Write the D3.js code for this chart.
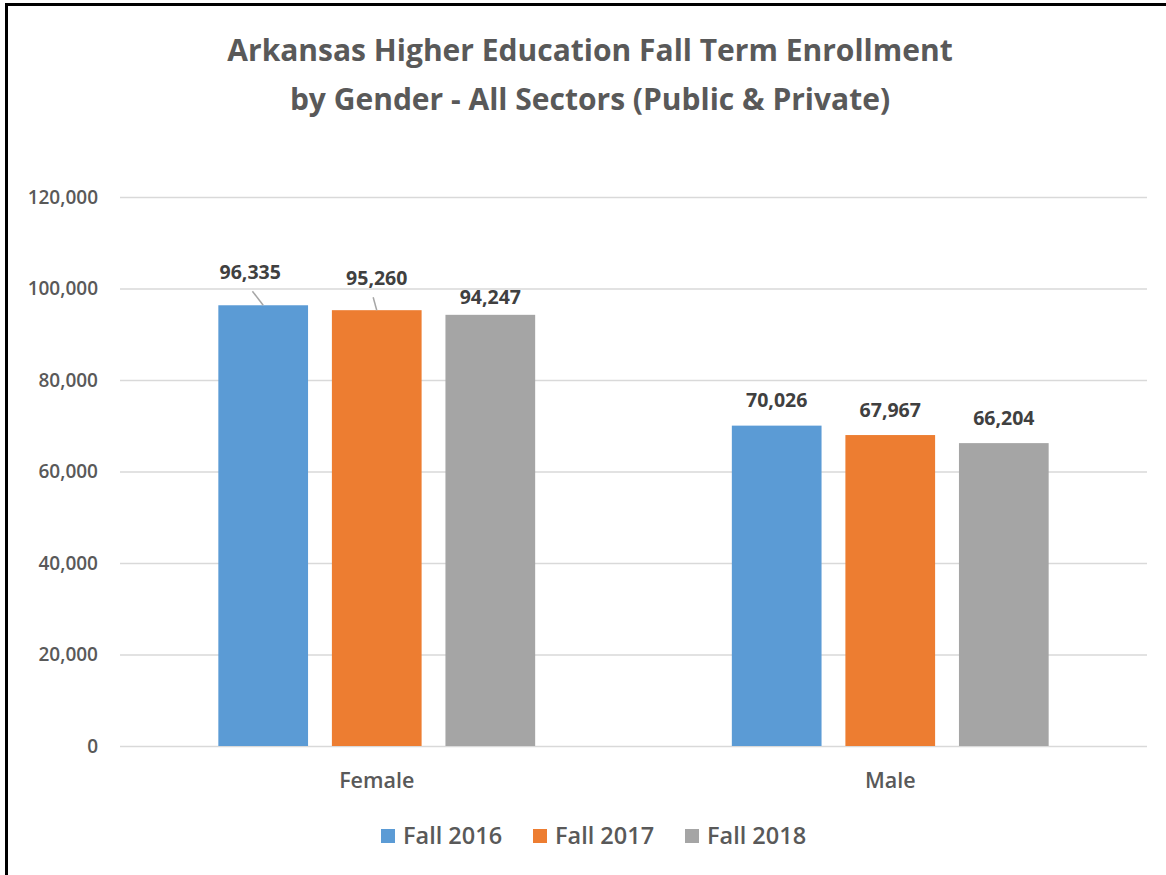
<!DOCTYPE html>
<html>
<head>
<meta charset="utf-8">
<script src="https://cdn.jsdelivr.net/npm/d3@7"></script>
<style>
  body { margin: 0; background: #fff; }
  svg { display: block; font-family: "Open Sans", "Noto Sans", sans-serif; }
</style>
</head>
<body>
<script>
// Chart values.
const genders = ["Female", "Male"];
const terms = ["Fall 2016", "Fall 2017", "Fall 2018"];
const fall2016 = [96335, 70026];
const fall2017 = [95260, 67967];
const fall2018 = [94247, 66204];
const yTicks = [0, 20000, 40000, 60000, 80000, 100000, 120000];

const colors = ["#5b9bd5", "#ed7d31", "#a5a5a5"];
const seriesValues = [fall2016, fall2017, fall2018];

const width = 1166, height = 875;
const margin = {top: 197, right: 19, bottom: 129, left: 120};

const svg = d3.select("body").append("svg")
  .attr("width", width).attr("height", height);

// frame (only left and top edges show in the picture)
svg.append("path")
  .attr("d", "M6.5,875 V4.5 H1166")
  .attr("fill", "none").attr("stroke", "#000").attr("stroke-width", 3);

// title
const title = svg.append("text")
  .attr("x", 590).attr("y", 61)
  .attr("text-anchor", "middle")
  .attr("fill", "#595959")
  .style("font-size", "30px").style("font-weight", "bold");
title.append("tspan").attr("x", 590).attr("dy", 0).text("Arkansas Higher Education Fall Term Enrollment");
title.append("tspan").attr("x", 590).attr("dy", 49).text("by Gender - All Sectors (Public & Private)");

const x0 = d3.scaleBand().domain(genders)
  .range([margin.left, width - margin.right]);
const x1 = d3.scaleBand().domain(terms)
  .range([0, x0.bandwidth() * 0.617]).paddingInner(0.21);
const y = d3.scaleLinear().domain([0, 120000])
  .range([height - margin.bottom, margin.top]);

// gridlines
svg.append("g")
  .attr("transform", "translate(" + margin.left + ",0)")
  .call(d3.axisLeft(y).tickValues(yTicks)
    .tickSize(-(width - margin.left - margin.right)).tickFormat(""))
  .call(g => g.select(".domain").remove())
  .call(g => g.selectAll("line").attr("stroke", "#d9d9d9").attr("stroke-width", 1.5));

// y tick labels
svg.append("g")
  .attr("transform", "translate(98,0)")
  .call(d3.axisLeft(y).tickValues(yTicks).tickSize(0).tickPadding(0)
    .tickFormat(d3.format(",")))
  .call(g => g.select(".domain").remove())
  .call(g => g.selectAll("text").attr("fill", "#595959")
    .style("font-size", "19px").style("font-weight", "600")
    .style("font-family", "'Open Sans', sans-serif"));

// bars
const groups = svg.selectAll(".grp")
  .data(genders)
  .enter().append("g")
  .attr("class", "grp")
  .attr("transform", (d) => "translate(" + (x0(d) + x0.bandwidth() * 0.1915) + ",0)");

const cells = groups.selectAll("rect")
  .data((g, gi) => terms.map((t, ti) => ({term: t, gi: gi, ti: ti, value: seriesValues[ti][gi]})))
  .enter();

cells.append("rect")
  .attr("x", (d) => x1(d.term))
  .attr("y", (d) => y(d.value))
  .attr("width", x1.bandwidth())
  .attr("height", (d) => y(0) - y(d.value))
  .attr("fill", (d) => colors[d.ti]);

// data labels; the first two female labels were dragged up with leader lines
function labelLift(d) {
  if (d.gi === 0 && d.ti === 0) return 33;
  if (d.gi === 0 && d.ti === 1) return 32;
  if (d.gi === 0 && d.ti === 2) return 18;
  return 25;
}

cells.filter((d) => d.gi === 0 && d.ti < 2)
  .append("line")
  .attr("x1", (d) => x1(d.term) + x1.bandwidth() * (d.ti === 0 ? 0.38 : 0.46))
  .attr("y1", (d) => y(d.value) - labelLift(d) + 19)
  .attr("x2", (d) => x1(d.term) + x1.bandwidth() * 0.5)
  .attr("y2", (d) => y(d.value))
  .attr("stroke", "#a6a6a6").attr("stroke-width", 1.5);

cells.append("text")
  .attr("x", (d) => x1(d.term) + x1.bandwidth() / 2 + (d.gi === 0 && d.ti === 0 ? -13 : 0))
  .attr("y", (d) => y(d.value) - labelLift(d))
  .attr("dy", "0.35em")
  .attr("text-anchor", "middle")
  .attr("fill", "#404040")
  .style("font-size", "19.5px").style("font-weight", "bold")
  .text((d) => d3.format(",")(d.value));

// category axis labels
svg.append("g")
  .attr("transform", "translate(0," + (height - margin.bottom) + ")")
  .call(d3.axisBottom(x0).tickSize(0).tickPadding(27))
  .call(g => g.select(".domain").remove())
  .call(g => g.selectAll("text").attr("fill", "#595959")
    .style("font-size", "21.5px").style("font-weight", "600")
    .style("font-family", "'Open Sans', sans-serif"));

// legend
const legendX = [381, 533, 685];
const legend = svg.selectAll(".leg")
  .data(terms)
  .enter().append("g")
  .attr("class", "leg")
  .attr("transform", (d, i) => "translate(" + legendX[i] + ",829)");

legend.append("rect")
  .attr("width", 14).attr("height", 14)
  .attr("fill", (d, i) => colors[i]);

legend.append("text")
  .attr("x", 22).attr("y", 7).attr("dy", "0.35em")
  .attr("fill", "#595959")
  .style("font-size", "23.5px").style("font-weight", "600")
  .text((d) => d);
</script>
</body>
</html>
